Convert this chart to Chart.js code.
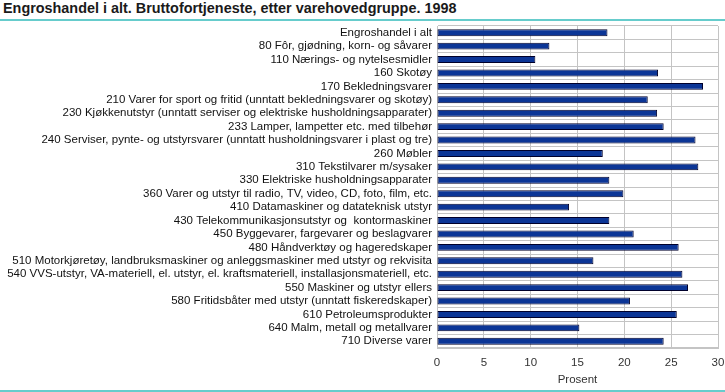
<!DOCTYPE html>
<html lang="no">
<head>
    <meta charset="UTF-8">
    <title>Engroshandel i alt. Bruttofortjeneste</title>
    <script src="https://cdn.jsdelivr.net/npm/chart.js@4.4.1/dist/chart.umd.min.js"></script>
    <style>
        html, body {
            margin: 0;
            padding: 0;
            background: #fff;
        }
        .tittel {
            font-family: "Liberation Sans", Arial, sans-serif;
            font-weight: bold;
            font-size: 14.4px;
            color: #1a1a1a;
            line-height: 17px;
            padding-left: 3px;
            border-bottom: 2px solid #66cccc;
            box-sizing: border-box;
            height: 21px;
        }
        .chart-box {
            position: relative;
            width: 725px;
            height: 369px;
        }
        .bunn {
            border-bottom: 2px solid #66cccc;
        }
    </style>
</head>
<body>
    <div class="tittel">Engroshandel i alt. Bruttofortjeneste, etter varehovedgruppe. 1998</div>
    <div class="chart-box"><canvas id="grafen"></canvas></div>
    <div class="bunn"></div>

    <script>
        // varegrupper (ovenfra og ned)
        var varegrupper = [
            'Engroshandel i alt',
            '80 Fôr, gjødning, korn- og såvarer',
            '110 Nærings- og nytelsesmidler',
            '160 Skotøy',
            '170 Bekledningsvarer',
            '210 Varer for sport og fritid (unntatt bekledningsvarer og skotøy)',
            '230 Kjøkkenutstyr (unntatt serviser og elektriske husholdningsapparater)',
            '233 Lamper, lampetter etc. med tilbehør',
            '240 Serviser, pynte- og utstyrsvarer (unntatt husholdningsvarer i plast og tre)',
            '260 Møbler',
            '310 Tekstilvarer m/sysaker',
            '330 Elektriske husholdningsapparater',
            '360 Varer og utstyr til radio, TV, video, CD, foto, film, etc.',
            '410 Datamaskiner og datateknisk utstyr',
            '430 Telekommunikasjonsutstyr og  kontormaskiner',
            '450 Byggevarer, fargevarer og beslagvarer',
            '480 Håndverktøy og hageredskaper',
            '510 Motorkjøretøy, landbruksmaskiner og anleggsmaskiner med utstyr og rekvisita',
            '540 VVS-utstyr, VA-materiell, el. utstyr, el. kraftsmateriell, installasjonsmateriell, etc.',
            '550 Maskiner og utstyr ellers',
            '580 Fritidsbåter med utstyr (unntatt fiskeredskaper)',
            '610 Petroleumsprodukter',
            '640 Malm, metall og metallvarer',
            '710 Diverse varer'
        ];

        // bruttofortjeneste i prosent
        var prosent = [
            18.2, 12.0, 10.5, 23.6, 28.4, 22.5, 23.5, 24.2,
            27.6, 17.7, 27.9, 18.4, 19.9, 14.1, 18.4, 21.0,
            25.8, 16.7, 26.2, 26.8, 20.6, 25.6, 15.2, 24.2
        ];

        var xTicks = [0, 5, 10, 15, 20, 25, 30];

        var fontFamily = '"Liberation Sans", Arial, sans-serif';

        var ctx = document.getElementById('grafen').getContext('2d');
        var grafen = new Chart(ctx, {
            type: 'bar',
            data: {
                labels: varegrupper,
                datasets: [{
                    label: 'Prosent',
                    data: prosent,
                    backgroundColor: '#0b3596',
                    borderColor: '#00002a',
                    borderWidth: 1,
                    borderSkipped: false,
                    barPercentage: 0.52,
                    categoryPercentage: 1.0
                }]
            },
            options: {
                indexAxis: 'y',
                responsive: true,
                maintainAspectRatio: false,
                animation: false,
                layout: {
                    padding: { top: 5, right: 0, left: 0, bottom: 0 }
                },
                plugins: {
                    legend: { display: false },
                    tooltip: { enabled: false }
                },
                scales: {
                    x: {
                        min: 0,
                        max: 30,
                        afterBuildTicks: function (scale) {
                            scale.ticks = xTicks.map(function (v) { return { value: v }; });
                        },
                        afterFit: function (scale) {
                            scale.height = 42;
                            scale.paddingLeft = 0;
                            scale.paddingRight = 7;
                        },
                        grid: { color: '#c4c4c4', lineWidth: 1, drawTicks: false },
                        border: { color: '#c4c4c4' },
                        ticks: {
                            padding: 8,
                            color: '#333',
                            font: { family: fontFamily, size: 11.5 }
                        },
                        title: {
                            display: true,
                            text: 'Prosent',
                            color: '#333',
                            padding: { top: 0, bottom: 3 },
                            font: { family: fontFamily, size: 11.5 }
                        }
                    },
                    y: {
                        grid: { color: '#c4c4c4', lineWidth: 1, offset: true, drawTicks: false },
                        border: { color: '#c4c4c4' },
                        afterFit: function (scale) {
                            scale.width = 437;
                            scale.paddingTop = 0;
                            scale.paddingBottom = 0;
                        },
                        ticks: {
                            padding: 5,
                            autoSkip: false,
                            color: '#111',
                            font: { family: fontFamily, size: 11.5 }
                        }
                    }
                }
            }
        });
    </script>
</body>
</html>
